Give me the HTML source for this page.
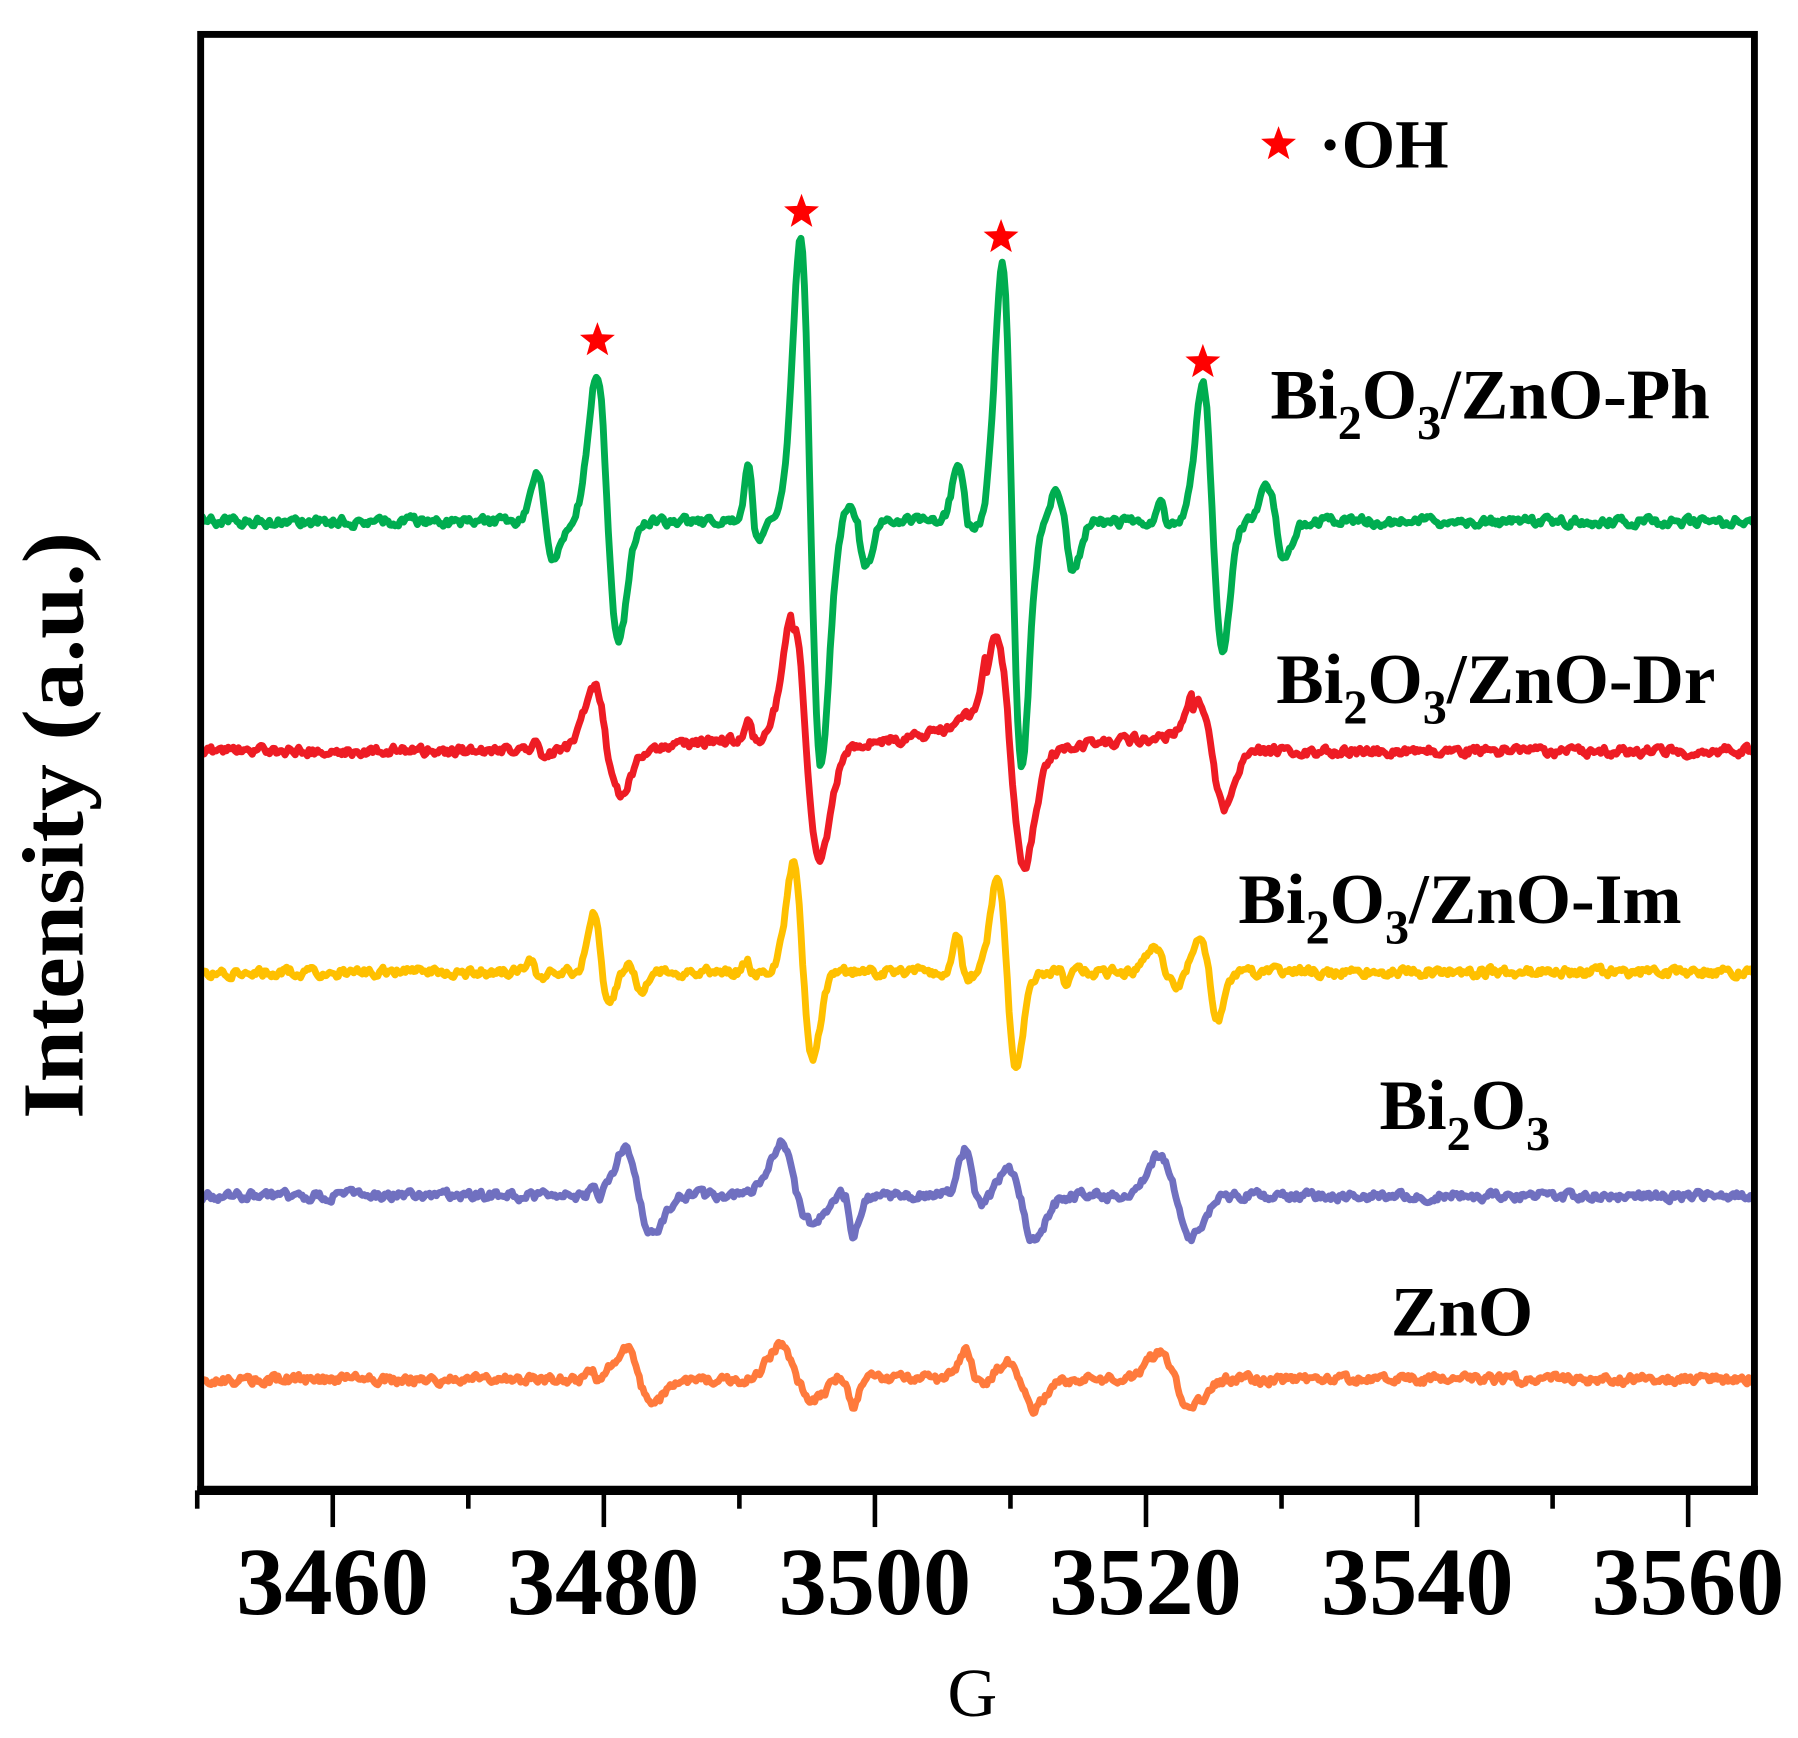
<!DOCTYPE html>
<html><head><meta charset="utf-8"><style>
html,body{margin:0;padding:0;background:#fff;}
svg{display:block;}
text{font-family:"Liberation Serif",serif;font-weight:bold;fill:#000;}
</style></head><body>
<svg id="s" width="1798" height="1738" viewBox="0 0 1568 1516" preserveAspectRatio="none" xmlns="http://www.w3.org/2000/svg">
<rect x="0" y="0" width="1568" height="1516" fill="#fff"/>
<g id="curves" fill="none" stroke-width="6" stroke-linejoin="round"></g>
<rect x="175" y="30" width="1355" height="1270" fill="none" stroke="#000" stroke-width="6"/>
<line x1="172" y1="1300" x2="1533" y2="1300" stroke="#000" stroke-width="8"/>
<g id="ticks" stroke="#000" stroke-width="4"></g>
<g font-size="84">
<text x="290" y="1408" text-anchor="middle">3460</text>
<text x="526" y="1408" text-anchor="middle">3480</text>
<text x="763" y="1408" text-anchor="middle">3500</text>
<text x="999" y="1408" text-anchor="middle">3520</text>
<text x="1236" y="1408" text-anchor="middle">3540</text>
<text x="1472" y="1408" text-anchor="middle">3560</text>
</g>
<text x="848" y="1497" text-anchor="middle" font-size="60" style="font-weight:normal">G</text>
<text transform="translate(72,720) rotate(-90)" text-anchor="middle" font-size="76" textLength="512" lengthAdjust="spacingAndGlyphs">Intensity (a.u.)</text>
<g font-size="62">
<text x="1150" y="146" font-size="60">·OH</text>
<text x="1108" y="365">Bi<tspan dy="18" font-size="42">2</tspan><tspan dy="-18">O</tspan><tspan dy="18" font-size="42">3</tspan><tspan dy="-18">/ZnO-Ph</tspan></text>
<text x="1113" y="613">Bi<tspan dy="18" font-size="42">2</tspan><tspan dy="-18">O</tspan><tspan dy="18" font-size="42">3</tspan><tspan dy="-18">/ZnO-Dr</tspan></text>
<text x="1080" y="805">Bi<tspan dy="18" font-size="42">2</tspan><tspan dy="-18">O</tspan><tspan dy="18" font-size="42">3</tspan><tspan dy="-18">/ZnO-Im</tspan></text>
<text x="1203" y="985">Bi<tspan dy="18" font-size="42">2</tspan><tspan dy="-18">O</tspan><tspan dy="18" font-size="42">3</tspan></text>
<text x="1213" y="1165">ZnO</text>
</g>
<g id="stars" fill="#ff0000"></g>
</svg>
<script>
var NS="http://www.w3.org/2000/svg";
function el(t,a,p){var e=document.createElementNS(NS,t);for(var k in a)e.setAttribute(k,a[k]);p.appendChild(e);return e;}
var tg=document.getElementById('ticks');
for(var i=0;i<=11;i++){var G=3450+i*10;var x=172+(G-3450)*11.82;var major=(i%2==1);
el('line',{x1:x,y1:1300,x2:x,y2:major?1332:1316},tg);}
function star(cx,cy,r){var p=[];for(var i=0;i<10;i++){var a=-Math.PI/2+i*Math.PI/5;var rr=(i%2==0)?r:r*0.42;p.push((cx+rr*Math.cos(a)).toFixed(1)+','+(cy+rr*Math.sin(a)).toFixed(1));}
el('polygon',{points:p.join(' ')},document.getElementById('stars'));}
[[521,297],[699,185],[873,207],[1049,316],[1115,126]].forEach(function(s){star(s[0],s[1],16);});
function comp(x,f){var d=x-f[0],w=f[1];var v=(-d/w)*Math.exp(0.5-d*d/(2*w*w));return v>0?v*f[2]:v*f[3];}
var seed=1;function rnd(){seed=(seed*16807)%2147483647;return seed/2147483647;}
function curve(base,feats,color,noise,sc,slope){var pts=[];var nz=0;
for(var x=175;x<=1530;x+=1.5){var y=0;feats.forEach(function(f){y+=comp(x,f);});
if(slope){slope.forEach(function(s){if(x>s[0]&&x<s[1])y+=s[2]*(x-s[0])/(s[1]-s[0]);});}
nz=nz*0.5+(rnd()-0.5)*noise;var yy=base-y*sc+nz;pts.push(x.toFixed(1)+','+yy.toFixed(1));}
el('polyline',{points:pts.join(' '),stroke:color},document.getElementById('curves'));}
curve(455,[[476,7.5,45,32],[530,9.5,130,103],[657.5,4.5,50,18],[707,9,248,213],[748,7,15,42],[843,7,50,7],[882.5,8.5,225,215],[928.5,7.5,25,45],[1016,4,18,6],[1057.5,8.5,120,112],[1112.5,7.5,33,33]],'#00ad50',7,1);
curve(655,[[472,4,10,8],[529.5,11.5,57,38],[657,4,12,5],[703.5,11.5,108,93],[845,6,10,4],[881,12,100,100],[1056.5,11.5,42,50]],'#ee1c24',7,1,[[545,690,15],[725,860,25],[900,1040,15]]);
curve(848,[[467,4,8,6],[525,7,51,27],[553,6,8,20],[655,4,10,4],[700.5,8.5,95,74],[840,5,30,5],[878,8,85,84],[925,4,4,10],[1016,9,22,12],[1054,8,32,42]],'#ffc000',7,1);
var pf=[[520,4,10,4],[557,12,40,34],[695,14,46,25],[738,6,5,35],[850,8,40,10],[890,12,22,40],[1025,14,35,37]];
curve(1043,pf,'#7070c0',7,1);
curve(1203,pf,'#ff7a3c',7,0.65);
</script>
</body></html>
